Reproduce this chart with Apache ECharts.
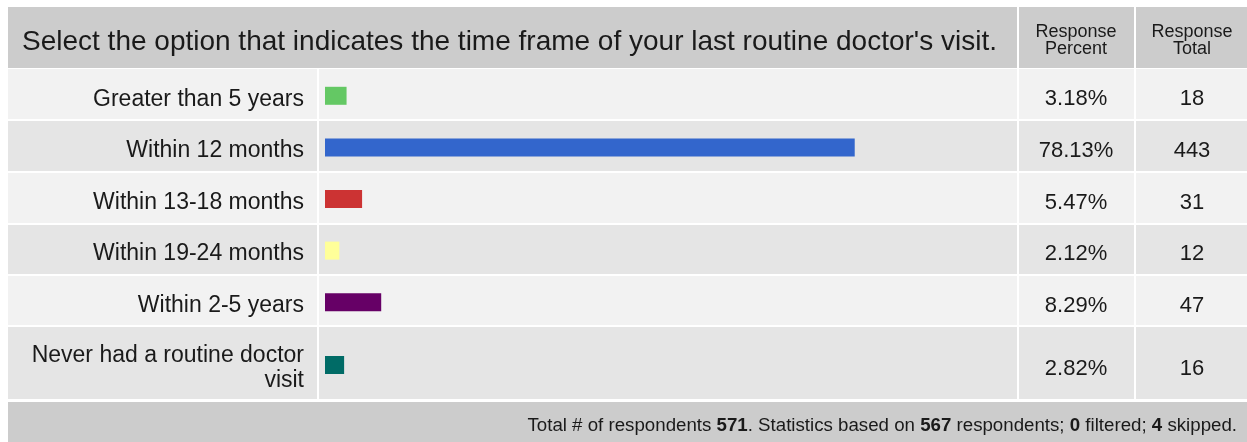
<!DOCTYPE html>
<html><head><meta charset="utf-8">
<script src="https://cdn.jsdelivr.net/npm/echarts@6/dist/echarts.min.js"></script>
<style>html,body{margin:0;padding:0;background:#fff}#c{width:1247px;height:442px}</style>
</head><body><div id="c"></div>
<script>
// ---- data ----
const questionTitle = "Select the option that indicates the time frame of your last routine doctor's visit.";
const categories = ["Greater than 5 years", "Within 12 months", "Within 13-18 months", "Within 19-24 months", "Within 2-5 years", "Never had a routine doctor\nvisit"];
const responsePercent = [3.18, 78.13, 5.47, 2.12, 8.29, 2.82];
const responseTotal = [18, 443, 31, 12, 47, 16];
const columnHeaders = ["Response\nPercent", "Response\nTotal"];
const totalRespondents = 571;
const basedOnRespondents = 567;
const filteredCount = 0;
const skippedCount = 4;

// ---- styles ----
const barColors = ["#64c864", "#3366cc", "#cc3333", "#ffff99", "#660066", "#006b66"];
const FONT = "'Liberation Sans', Arial, sans-serif";
const TXT = "#1a1a1a";

// ---- layout ----
const tableL = 8, tableR = 1247;
const headerTop = 7, headerBottom = 67;
const rowBounds = [69, 121, 173, 225, 276, 327, 401];
const footerTop = 402, footerBottom = 442;
const colSeps = [317, 1017, 1134];
const barLeft = 325, barWidthPx = 678;
const pctCenter = 1076, totCenter = 1192;

const graphics = [];
graphics.push({type:'rect', z:-10, shape:{x:tableL, y:headerTop, width:tableR-tableL, height:headerBottom-headerTop+1}, style:{fill:'#cccccc'}});
for (let i = 0; i < 6; i++) {
  graphics.push({type:'rect', z:-10, shape:{x:tableL, y:rowBounds[i], width:tableR-tableL, height:rowBounds[i+1]-rowBounds[i]-2}, style:{fill: i % 2 === 0 ? '#f2f2f2' : '#e5e5e5'}});
}
graphics.push({type:'rect', z:-10, shape:{x:tableL, y:footerTop, width:tableR-tableL, height:footerBottom-footerTop}, style:{fill:'#cccccc'}});
colSeps.forEach((x, k) => {
  graphics.push({type:'rect', z:-9, shape:{x:x, y: k === 0 ? rowBounds[0] : headerTop, width:2, height: rowBounds[6] - (k === 0 ? rowBounds[0] : headerTop)}, style:{fill:'#ffffff'}});
});
graphics.push({type:'text', z:5, style:{text:questionTitle, x:22, y:42, fontSize:28, fontFamily:FONT, fill:TXT, verticalAlign:'middle', align:'left'}});
graphics.push({type:'text', z:5, style:{text:columnHeaders[0], x:pctCenter, y:41, fontSize:18, lineHeight:17, fontFamily:FONT, fill:TXT, verticalAlign:'middle', align:'center'}});
graphics.push({type:'text', z:5, style:{text:columnHeaders[1], x:totCenter, y:41, fontSize:18, lineHeight:17, fontFamily:FONT, fill:TXT, verticalAlign:'middle', align:'center'}});
graphics.push({type:'text', z:5, style:{
  text: '{n|Total # of respondents }{b|' + totalRespondents + '}{n|. Statistics based on }{b|' + basedOnRespondents + '}{n| respondents; }{b|' + filteredCount + '}{n| filtered; }{b|' + skippedCount + '}{n| skipped.}',
  x:1237, y:426, align:'right', verticalAlign:'middle',
  rich:{ n:{fontSize:18.7, fontFamily:FONT, fill:TXT, color:TXT}, b:{fontSize:18.7, fontFamily:FONT, fontWeight:'bold', fill:TXT, color:TXT} }
}});

const wrapRich = (s) => String(s).split('\n').map(l => '{t|' + l + '}').join('\n');
const groups = [[0, 5], [5, 6]];
const grids = [], xAxes = [], yAxes = [], series = [];
groups.forEach(([a, b], g) => {
  grids.push({left: barLeft, width: barWidthPx, top: rowBounds[a] + 1, height: rowBounds[b] - rowBounds[a]});
  xAxes.push({type:'value', gridIndex:g, min:0, max:100, show:false});
  const base = {type:'category', gridIndex:g, inverse:true, axisLine:{show:false}, axisTick:{show:false}, splitLine:{show:false}};
  yAxes.push(Object.assign({}, base, {position:'left', data:categories.slice(a, b),
    axisLabel:{margin:21, align:'right', formatter:wrapRich,
      rich:{t:{fontSize:23, lineHeight:25, fontFamily:FONT, color:TXT, align:'right', padding:[7,0,0,0]}}}}));
  yAxes.push(Object.assign({}, base, {position:'right', data:responsePercent.slice(a, b).map(v => v.toFixed(2) + '%'),
    axisLabel:{margin:pctCenter - (barLeft + barWidthPx), align:'center', formatter:wrapRich,
      rich:{t:{fontSize:22, fontFamily:FONT, color:TXT, padding:[7,0,0,0]}}}}));
  yAxes.push(Object.assign({}, base, {position:'right', data:responseTotal.slice(a, b).map(String),
    axisLabel:{margin:totCenter - (barLeft + barWidthPx), align:'center', formatter:wrapRich,
      rich:{t:{fontSize:22, fontFamily:FONT, color:TXT, padding:[7,0,0,0]}}}}));
  series.push({type:'bar', xAxisIndex:g, yAxisIndex:g * 3, barWidth:18, silent:true,
    data: responsePercent.slice(a, b).map((v, i) => ({value:v, itemStyle:{color:barColors[a + i]}}))});
});

const chart = echarts.init(document.getElementById('c'), null, {renderer:'canvas'});
chart.setOption({animation:false, backgroundColor:'#ffffff', graphic:graphics, grid:grids, xAxis:xAxes, yAxis:yAxes, series:series});
</script></body></html>
